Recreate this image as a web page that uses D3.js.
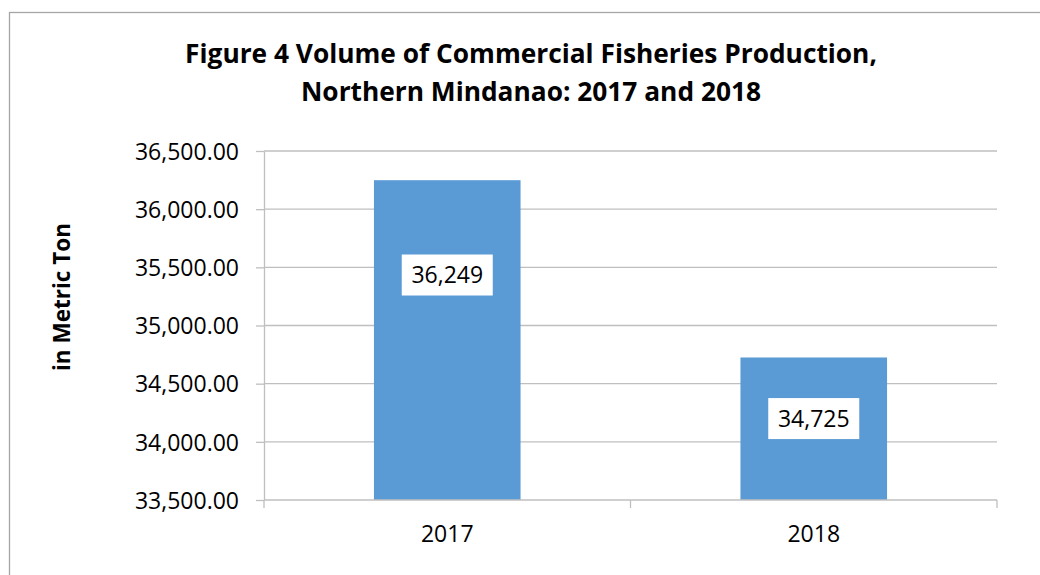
<!DOCTYPE html>
<html>
<head>
  <meta charset="UTF-8">
  <title>Commercial Fisheries Production</title>
  <style>
    body { margin: 0; background: #fff; }
    svg text { font-family: "Open Sans", sans-serif; fill: #000; }
    .grid line { stroke: #bfbfbf; stroke-width: 1.3; }
    .axis path, .axis line { stroke: #bfbfbf; stroke-width: 1.3; }
  </style>
</head>
<body>
<svg id="chart" width="1040" height="575"></svg>

<script src="https://d3js.org/d3.v7.min.js"></script>
<script>
  // data
  var years = ["2017", "2018"]
  var volumes = [36249, 34725]
  var labelAt = [35434, 34200]   // where the value boxes sit (in metric tons)
  var yTicks = [33500, 34000, 34500, 35000, 35500, 36000, 36500]

  var svg = d3.select("#chart")

  // chart border
  svg.append("rect")
    .attr("x", 9.5).attr("y", 12.5)
    .attr("width", 1040).attr("height", 600)
    .attr("fill", "none")
    .attr("stroke", "#a6a6a6")
    .attr("stroke-width", 1.3)

  // title
  var title = svg.append("text")
    .attr("text-anchor", "middle")
    .style("font-weight", "bold")
    .style("font-size", "26.3px")
  title.append("tspan").attr("x", 531).attr("y", 63).text("Figure 4 Volume of Commercial Fisheries Production,")
  title.append("tspan").attr("x", 531).attr("y", 101).text("Northern Mindanao: 2017 and 2018")

  var plotL = 264, plotR = 997, plotT = 151, plotB = 500

  var x = d3.scaleBand()
    .domain(years)
    .range([plotL, plotR])
    .paddingInner(0.6)
    .paddingOuter(0.3)

  var y = d3.scaleLinear()
    .domain([33500, 36500])
    .range([plotB, plotT])

  // gridlines
  svg.append("g")
    .attr("class", "grid")
    .selectAll("line")
    .data(yTicks.slice(1))
    .join("line")
    .attr("x1", plotL).attr("x2", plotR)
    .attr("y1", d => y(d)).attr("y2", d => y(d))

  // bars
  svg.selectAll(".bar")
    .data(volumes)
    .join("rect")
    .attr("class", "bar")
    .attr("x", (d, i) => x(years[i]))
    .attr("width", x.bandwidth())
    .attr("y", d => y(d))
    .attr("height", d => plotB - y(d))
    .attr("fill", "#5b9bd5")

  // y axis
  var yAxis = svg.append("g")
    .attr("class", "axis")
    .attr("transform", "translate(" + plotL + ",0)")
    .call(d3.axisLeft(y).tickValues(yTicks).tickSize(8).tickSizeOuter(0).tickPadding(17)
      .tickFormat(d3.format(",.2f")))
  yAxis.selectAll("text").style("font-size", "23px").attr("dy", "0.36em")

  // x axis (ticks sit between the categories)
  var xAxis = svg.append("g")
    .attr("class", "axis")
    .attr("transform", "translate(0," + plotB + ")")
  xAxis.append("line")
    .attr("x1", plotL).attr("x2", plotR)
  var gap = x(years[1]) - x(years[0]) - x.bandwidth()
  var sep = [plotL, x(years[0]) + x.bandwidth() + gap / 2, plotR]
  xAxis.selectAll(".sep")
    .data(sep)
    .join("line")
    .attr("class", "sep")
    .attr("x1", d => d).attr("x2", d => d)
    .attr("y1", 0).attr("y2", 8)
  xAxis.selectAll(".lbl")
    .data(years)
    .join("text")
    .attr("class", "lbl")
    .attr("x", d => x(d) + x.bandwidth() / 2)
    .attr("y", 42)
    .attr("text-anchor", "middle")
    .style("font-size", "23px")
    .text(d => d)

  // y axis title
  svg.append("text")
    .attr("transform", "translate(70,297) rotate(-90)")
    .attr("text-anchor", "middle")
    .style("font-weight", "bold")
    .style("font-size", "22.5px")
    .text("in Metric Ton")

  // value boxes
  var lab = svg.selectAll(".vlab")
    .data(volumes)
    .join("g")
    .attr("class", "vlab")
    .attr("transform", (d, i) => "translate(" + (x(years[i]) + x.bandwidth() / 2) + "," + y(labelAt[i]) + ")")
  lab.append("rect")
    .attr("x", -45.5).attr("y", -20.5)
    .attr("width", 91).attr("height", 41)
    .attr("fill", "#fff")
  lab.append("text")
    .attr("text-anchor", "middle")
    .attr("dy", "0.36em")
    .style("font-size", "23px")
    .text(d => d3.format(",")(d))
</script>
</body>
</html>
